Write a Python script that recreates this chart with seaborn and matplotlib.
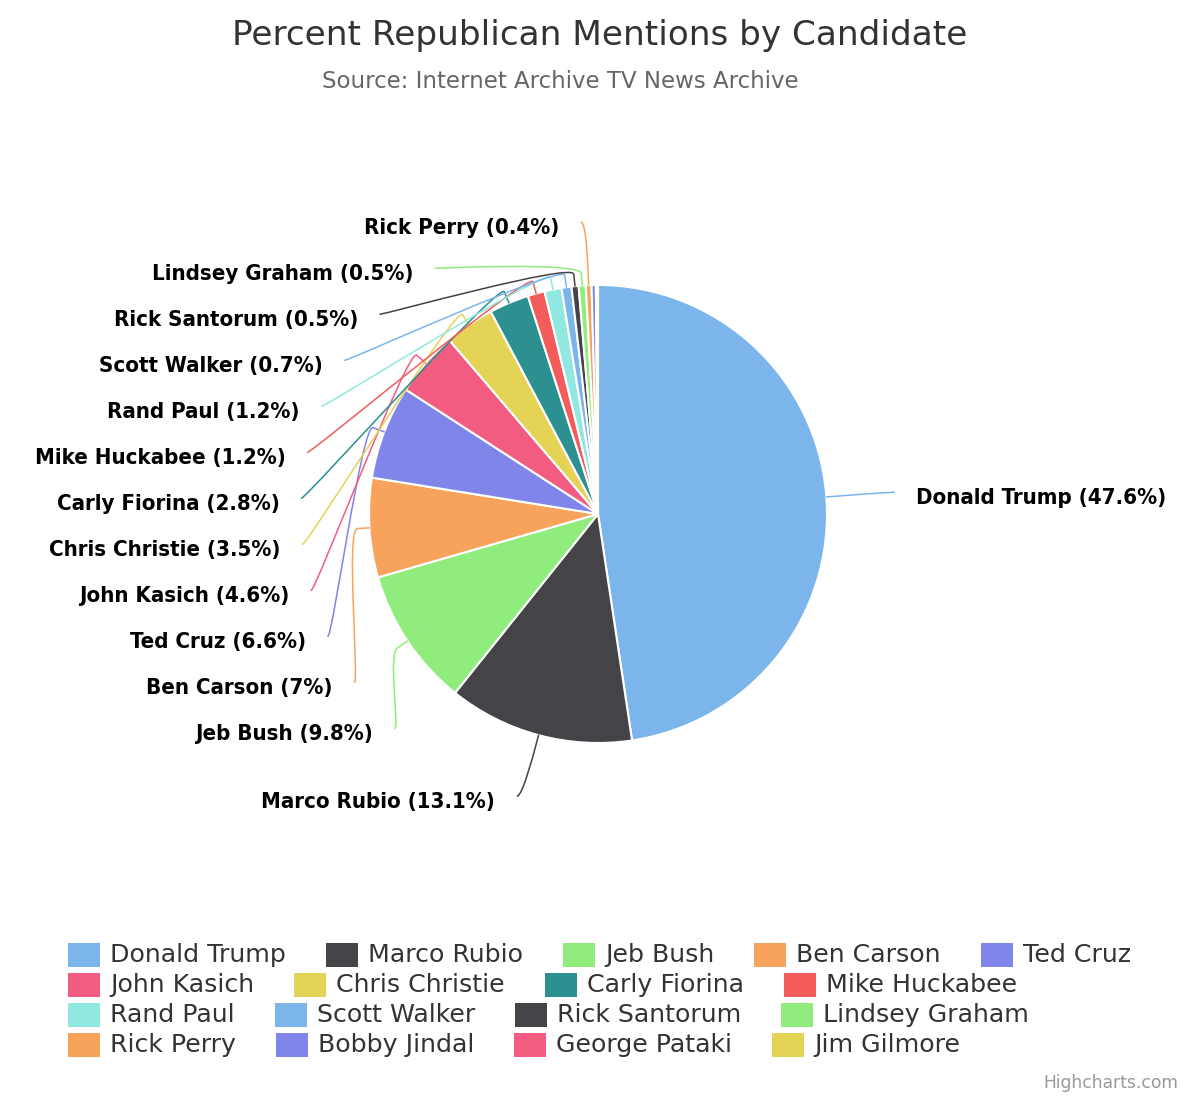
import numpy as np
import pandas as pd
import seaborn as sns
import matplotlib
matplotlib.use("Agg")
import matplotlib.pyplot as plt
from matplotlib.path import Path
from matplotlib.patches import PathPatch, Rectangle

# ---------------- data ----------------
candidates = ["Donald Trump", "Marco Rubio", "Jeb Bush", "Ben Carson", "Ted Cruz",
              "John Kasich", "Chris Christie", "Carly Fiorina", "Mike Huckabee",
              "Rand Paul", "Scott Walker", "Rick Santorum", "Lindsey Graham",
              "Rick Perry", "Bobby Jindal", "George Pataki", "Jim Gilmore"]
percent = [47.6, 13.1, 9.8, 7.0, 6.6, 4.6, 3.5, 2.8, 1.2, 1.2, 0.7, 0.5, 0.5,
           0.4, 0.3, 0.1, 0.05]
labeled = candidates[:14]   # candidates whose data label is shown

title = "Percent Republican Mentions by Candidate"
subtitle = "Source: Internet Archive TV News Archive"
credit = "Highcharts.com"

base_colors = ["#7cb5ec", "#434348", "#90ed7d", "#f7a35c", "#8085e9",
               "#f15c80", "#e4d354", "#2b908f", "#f45b5b", "#91e8e1"]

df = pd.DataFrame({"candidate": candidates, "percent": percent})

# ---------------- style ----------------
sns.set_theme(style="white")
plt.rcParams['font.family'] = ['DejaVu Sans']
palette = sns.color_palette(base_colors)
colors = [palette[i % len(palette)] for i in range(len(df))]

fig = plt.figure(figsize=(12, 11), dpi=100)
ax = fig.add_axes([0, 0, 1, 1])

cx, cy, r = 598, 514, 229
wedges, _ = ax.pie(df["percent"], colors=colors, startangle=270, counterclock=True,
                   center=(cx, cy), radius=r, normalize=True,
                   wedgeprops=dict(edgecolor="white", linewidth=1.5))
ax.set_xlim(0, 1200)
ax.set_ylim(1100, 0)
ax.set_aspect("equal")
ax.axis("off")

# ---------------- data labels with connectors ----------------
R_lab = 292
brk_off = 12
spacing = 46
top_y = 222
vals = np.asarray(df["percent"], dtype=float)
frac = vals / vals.sum()
cum = np.cumsum(frac)
mid = cum - frac / 2
phi = 2 * np.pi * mid

items = []
for i, name in enumerate(df["candidate"]):
    if name not in labeled:
        continue
    side = "right" if np.sin(phi[i]) > 0 else "left"
    nat_y = cy - np.cos(phi[i]) * R_lab
    items.append(dict(i=i, side=side, nat=nat_y))

for side in ("left", "right"):
    grp = sorted([it for it in items if it["side"] == side], key=lambda d: d["nat"])
    prev = top_y - spacing
    for it in grp:
        it["y"] = max(it["nat"], prev + spacing)
        prev = it["y"]

label_font = dict(fontsize=15.9, fontweight="bold", color="black",
                  fontstretch="condensed")
for it in items:
    i = it["i"]
    y = it["y"]
    sgn = 1 if it["side"] == "right" else -1
    dx = np.sqrt(max(R_lab ** 2 - (y - cy) ** 2, 0))
    xa = cx + sgn * dx
    base = np.array([cx + r * np.sin(phi[i]), cy - r * np.cos(phi[i])])
    brk = np.array([cx + (r + brk_off) * np.sin(phi[i]), cy - (r + brk_off) * np.cos(phi[i])])
    c2 = 2 * brk - base
    verts = [(xa + sgn * 5, y), (xa, y), tuple(c2), tuple(brk), tuple(base)]
    codes = [Path.MOVETO, Path.CURVE4, Path.CURVE4, Path.CURVE4, Path.LINETO]
    ax.add_patch(PathPatch(Path(verts, codes), facecolor="none",
                           edgecolor=colors[i], linewidth=1.1, capstyle="round"))
    v = df["percent"][i]
    ax.text(xa + sgn * 27, y + 6, f"{df['candidate'][i]} ({v:g}%)",
            ha="left" if sgn > 0 else "right", va="center", **label_font)

# ---------------- titles ----------------
ax.text(600, 35, title, ha="center", va="center", fontsize=24.7, color="#333333")
ax.text(560, 81, subtitle, ha="center", va="center", fontsize=16.5, color="#666666")
ax.text(1178, 1083, credit, ha="right", va="center", fontsize=12.3, color="#999999")

# ---------------- legend (flow layout) ----------------
fig.canvas.draw()
renderer = fig.canvas.get_renderer()
leg_x0, leg_y0, row_h = 68, 955, 30
sq_w, sq_h, gap_txt, gap_item, max_right = 32, 24, 10, 40, 1165
x, y = leg_x0, leg_y0
for i, name in enumerate(df["candidate"]):
    t = ax.text(0, 0, name, ha="left", va="center", fontsize=18.2, color="#333333")
    w = t.get_window_extent(renderer).width
    if x + sq_w + gap_txt + w > max_right:
        x = leg_x0
        y += row_h
    ax.add_patch(Rectangle((x, y - sq_h / 2), sq_w, sq_h, facecolor=colors[i],
                           edgecolor="none"))
    t.set_position((x + sq_w + gap_txt, y))
    x = x + sq_w + gap_txt + w + gap_item

fig.savefig("out.png", dpi=100)
